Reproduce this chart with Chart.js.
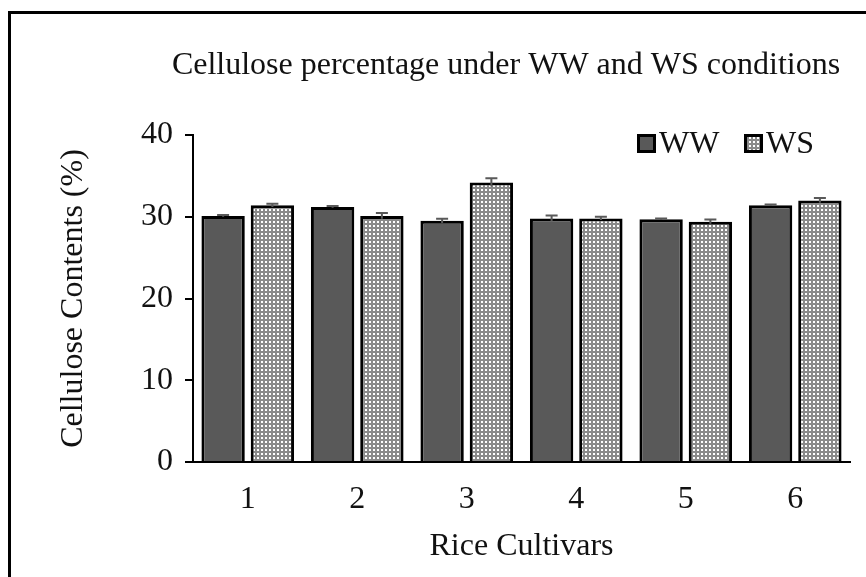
<!DOCTYPE html>
<html>
<head>
<meta charset="utf-8">
<script src="https://cdn.jsdelivr.net/npm/chart.js@4.4.1/dist/chart.umd.min.js"></script>
<style>
  body { margin: 0; background: #fff; }
  #wrap { position: relative; width: 866px; height: 577px; }
</style>
</head>
<body>
<div id="wrap"><canvas id="cellChart"></canvas></div>
<script>
const cultivars = ["1", "2", "3", "4", "5", "6"];
const wwValues = [30.1, 31.2, 29.5, 29.8, 29.7, 31.4];
const wsValues = [31.4, 30.1, 34.2, 29.8, 29.4, 32.0];
const wwErrors = [0.1, 0.1, 0.25, 0.35, 0.1, 0.1];
const wsErrors = [0.2, 0.35, 0.5, 0.2, 0.25, 0.3];
const yTicks = [0, 10, 20, 30, 40];
const chartTitle = "Cellulose percentage under WW and WS conditions";

const SERIF = "'Liberation Serif', 'Times New Roman', serif";

// dotted fill like the Excel pattern
function makeDots() {
  const c = document.createElement("canvas");
  c.width = 4;
  c.height = 4;
  const g = c.getContext("2d");
  g.fillStyle = "#8a8a8a";
  g.fillRect(0, 0, 4, 4);
  g.fillStyle = "#ffffff";
  g.fillRect(1, 1, 2, 2);
  return g.createPattern(c, "repeat");
}

const errorBars = {
  id: "errorBars",
  afterDatasetsDraw(chart) {
    const ctx = chart.ctx;
    const y = chart.scales.y;
    chart.data.datasets.forEach((ds, i) => {
      const meta = chart.getDatasetMeta(i);
      meta.data.forEach((bar, j) => {
        const v = ds.data[j];
        const e = ds.errors[j];
        const top = y.getPixelForValue(v + e);
        const bot = y.getPixelForValue(v - e);
        ctx.save();
        ctx.strokeStyle = "#595959";
        ctx.lineWidth = 2;
        ctx.beginPath();
        ctx.moveTo(bar.x, bot);
        ctx.lineTo(bar.x, top);
        ctx.moveTo(bar.x - 6, top);
        ctx.lineTo(bar.x + 6, top);
        ctx.stroke();
        ctx.restore();
      });
    });
  }
};

// frame, title and legend drawn by hand
const decor = {
  id: "decor",
  beforeDraw(chart) {
    const ctx = chart.ctx;
    ctx.save();
    ctx.strokeStyle = "#000";
    ctx.lineWidth = 3;
    ctx.beginPath();
    ctx.moveTo(9.5, 577);
    ctx.lineTo(9.5, 12.5);
    ctx.lineTo(866, 12.5);
    ctx.stroke();
    ctx.restore();
  },
  afterDraw(chart) {
    const ctx = chart.ctx;
    ctx.save();
    ctx.fillStyle = "#111";
    ctx.font = "32px " + SERIF;
    ctx.textAlign = "center";
    ctx.textBaseline = "middle";
    ctx.fillText(chartTitle, 506, 66);

    const spots = [637, 744];
    ctx.textAlign = "left";
    chart.data.datasets.forEach((ds, i) => {
      const x = spots[i];
      ctx.fillStyle = ds.backgroundColor;
      ctx.fillRect(x, 134, 19, 19);
      ctx.strokeStyle = "#000";
      ctx.lineWidth = 3;
      ctx.strokeRect(x + 1.5, 135.5, 16, 16);
      ctx.fillStyle = "#111";
      ctx.fillText(ds.label, x + 22, 145);
    });
    ctx.restore();
  }
};

new Chart(document.getElementById("cellChart"), {
  type: "bar",
  data: {
    labels: cultivars,
    datasets: [
      {
        label: "WW",
        data: wwValues,
        errors: wwErrors,
        backgroundColor: "#595959",
        borderColor: "#000",
        borderWidth: 3
      },
      {
        label: "WS",
        data: wsValues,
        errors: wsErrors,
        backgroundColor: makeDots(),
        borderColor: "#000",
        borderWidth: 3
      }
    ]
  },
  options: {
    responsive: true,
    maintainAspectRatio: false,
    animation: false,
    categoryPercentage: 0.9,
    barPercentage: 0.88,
    layout: { padding: { left: 50, right: 16, top: 135, bottom: 7 } },
    plugins: {
      title: { display: false },
      legend: { display: false },
      tooltip: { enabled: false }
    },
    scales: {
      x: {
        afterFit(scale) {
          scale.height = 108;
        },
        grid: { display: false },
        border: { display: true, color: "#000", width: 2 },
        ticks: { color: "#111", font: { family: SERIF, size: 32 }, padding: 10 },
        title: {
          display: true,
          text: "Rice Cultivars",
          color: "#111",
          font: { family: SERIF, size: 32 },
          padding: { top: 14, bottom: 4 }
        }
      },
      y: {
        min: 0,
        max: 40,
        afterBuildTicks(scale) {
          scale.ticks = yTicks.map(v => ({ value: v }));
        },
        afterFit(scale) {
          scale.width = 143;
        },
        grid: { drawOnChartArea: false, color: "#000", lineWidth: 2, tickLength: 8 },
        border: { color: "#000", width: 2 },
        ticks: { color: "#111", font: { family: SERIF, size: 32 }, padding: 12 },
        title: {
          display: true,
          text: "Cellulose Contents (%)",
          color: "#111",
          font: { family: SERIF, size: 32 },
          padding: { top: 4, bottom: 0 }
        }
      }
    }
  },
  plugins: [errorBars, decor]
});
</script>
</body>
</html>
